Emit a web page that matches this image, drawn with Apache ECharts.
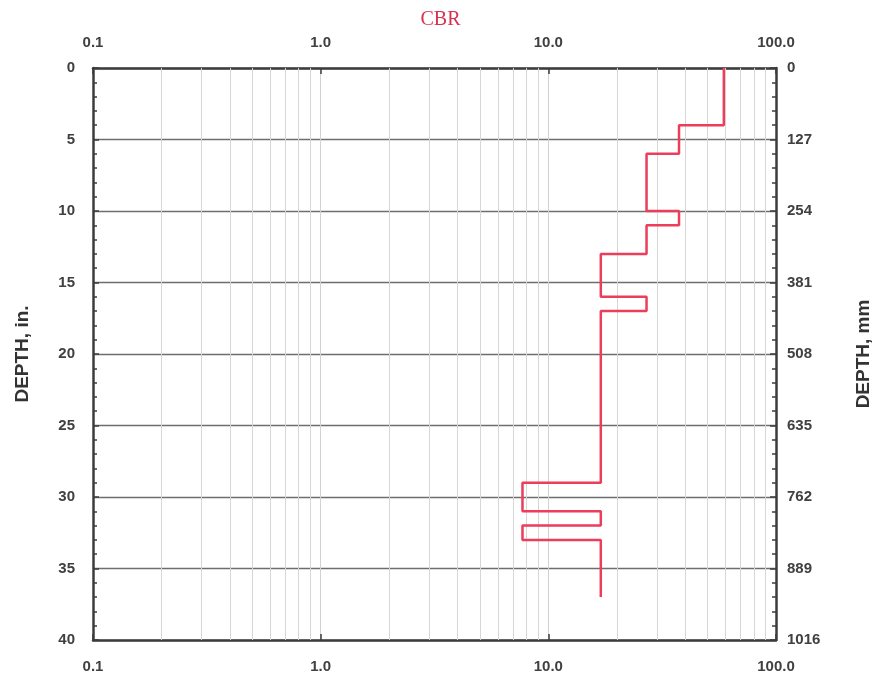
<!DOCTYPE html>
<html><head><meta charset="utf-8">
<script src="https://cdn.jsdelivr.net/npm/echarts@6/dist/echarts.min.js"></script>
<style>html,body{margin:0;padding:0;background:#fff}#c{width:881px;height:690px}</style>
</head><body><div id="c"></div>
<script>
// Layer tops/bottoms (inches) and CBR values
const layerTop    = [0, 4, 6, 10, 11, 13, 16, 17, 29, 31, 32, 33];
const layerBottom = [4, 6, 10, 11, 13, 16, 17, 29, 31, 32, 33, 37];
const layerCBR    = [59, 37.5, 27, 37.5, 27, 17, 27, 17, 7.7, 17, 7.7, 17];
const cbrMinorGrid = [0.2,0.3,0.4,0.5,0.6,0.7,0.8,0.9,2,3,4,5,6,7,8,9,20,30,40,50,60,70,80,90];
const depthInMax = 40, depthInStep = 5;
const depthMmMax = 1016, depthMmStep = 127;

const pts = [];
for (let i = 0; i < layerCBR.length; i++) {
  pts.push([layerCBR[i], layerTop[i]]);
  pts.push([layerCBR[i], layerBottom[i]]);
}

const lblFont = {fontFamily:'Liberation Sans, Arial, sans-serif', fontSize:15, fontWeight:'bold', color:'#404040'};
const nameFont = {fontFamily:'Liberation Sans, Arial, sans-serif', fontSize:19, fontWeight:'bold', color:'#333'};
const frame = {show:true, onZero:false, lineStyle:{color:'#3c3c3c', width:2.5}};
const fmtCBR = v => (v < 1 ? '0.1' : Number(v).toFixed(1));

const chart = echarts.init(document.getElementById('c'));
chart.setOption({
  backgroundColor:'#ffffff',
  animation:false,
  title:{text:'CBR', left:'center', top:5, textStyle:{fontFamily:'Liberation Serif, Times New Roman, serif', fontSize:20, fontWeight:'normal', color:'#d9314f'}},
  grid:{left:93, top:68, width:683, height:572, containLabel:false, outerBoundsMode:'none'},
  xAxis:[
    {type:'log', logBase:10, min:0.1, max:100, position:'bottom',
     axisLine:frame, axisTick:{show:true, inside:true, length:6, lineStyle:{color:'#3c3c3c', width:1.5}},
     axisLabel:Object.assign({margin:19, formatter:fmtCBR}, lblFont),
     splitLine:{show:true, lineStyle:{color:'#d2d2d2', width:1}}},
    {type:'log', logBase:10, min:0.1, max:100, position:'top',
     axisLine:frame, axisTick:{show:true, inside:true, length:6, lineStyle:{color:'#3c3c3c', width:1.5}},
     axisLabel:Object.assign({margin:18, formatter:fmtCBR}, lblFont),
     splitLine:{show:false}}
  ],
  yAxis:[
    {type:'value', inverse:true, min:0, max:depthInMax, interval:depthInStep, position:'left',
     name:'DEPTH, in.', nameLocation:'middle', nameGap:61, nameRotate:90,
     nameTextStyle:nameFont,
     axisLine:frame, axisTick:{show:true, inside:true, length:6, lineStyle:{color:'#3c3c3c', width:1.5}},
     minorTick:{show:true, splitNumber:5, length:4, lineStyle:{color:'#3c3c3c', width:1.5}},
     axisLabel:Object.assign({margin:18}, lblFont),
     splitLine:{show:true, lineStyle:{color:'#6e6e6e', width:1.3}}},
    {type:'value', inverse:true, min:0, max:depthMmMax, interval:depthMmStep, position:'right',
     name:'DEPTH, mm', nameLocation:'middle', nameGap:78, nameRotate:90,
     nameTextStyle:nameFont,
     axisLine:frame, axisTick:{show:true, inside:true, length:6, lineStyle:{color:'#3c3c3c', width:1.5}},
     minorTick:{show:true, splitNumber:5, length:4, lineStyle:{color:'#3c3c3c', width:1.5}},
     axisLabel:Object.assign({margin:11, formatter: v => String(v)}, lblFont),
     splitLine:{show:false}}
  ],
  series:[{
    type:'line', xAxisIndex:0, yAxisIndex:0, data:pts, showSymbol:false, symbol:'none',
    lineStyle:{color:'#ec3d5b', width:2.5}, z:5,
    markLine:{silent:true, symbol:'none', label:{show:false},
      lineStyle:{color:'#d6d6d6', width:1, type:'solid'},
      data: cbrMinorGrid.map(v => ({xAxis:v}))}
  }]
});
</script></body></html>
